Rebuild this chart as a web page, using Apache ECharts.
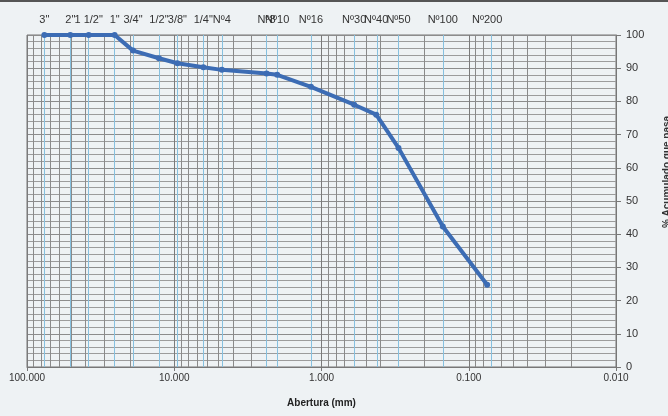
<!DOCTYPE html>
<html>
<head>
<meta charset="utf-8">
<script src="https://cdn.jsdelivr.net/npm/echarts@6/dist/echarts.min.js"></script>
<style>
html, body { margin: 0; background: #eef2f4; }
#curva { width: 668px; height: 416px; }
</style>
</head>
<body>
<div id="curva"></div>
<script>
// tamices y porcentajes
var sieveNames = ['3"', '2"', '1 1/2"', '1"', '3/4"', '1/2"', '3/8"', '1/4"', 'Nº4', 'Nº8', 'Nº10', 'Nº16', 'Nº30', 'Nº40', 'Nº50', 'Nº100', 'Nº200'];
var sieveSizes = [76.2, 50.8, 38.1, 25.4, 19.05, 12.7, 9.525, 6.35, 4.75, 2.36, 2.0, 1.18, 0.6, 0.425, 0.3, 0.15, 0.075];
var passing = [100, 100, 100, 100, 95.3, 93, 91.5, 90.3, 89.5, 88.4, 88, 84.4, 79, 76, 66, 42.3, 24.8];
var decades = [0.01, 0.1, 1, 10];

var lineColor = '#3c6cb4';

function curva() {
    var mychart = echarts.init(document.getElementById('curva'));

    // lineas menores del eje log (2..9 de cada decada)
    var minorLines = [];
    decades.forEach(function (d) {
        for (var m = 2; m <= 9; m++) {
            minorLines.push({ xAxis: +(m * d).toPrecision(3) });
        }
    });
    var sieveLines = sieveSizes.map(function (s) { return { xAxis: s }; });

    var points = sieveSizes.map(function (s, i) { return [s, passing[i]]; });

    var option = {
        backgroundColor: '#eef2f4',
        animation: false,
        textStyle: { fontFamily: 'Liberation Sans, Arial, sans-serif' },
        grid: {
            left: 27, right: 52, top: 35, bottom: 49,
            show: true, borderColor: '#777', borderWidth: 1
        },
        xAxis: {
            type: 'log',
            logBase: 10,
            min: 0.01,
            max: 100,
            inverse: true,
            name: 'Abertura (mm)',
            nameLocation: 'middle',
            nameGap: 31,
            nameTextStyle: { fontWeight: 'bold', fontSize: 10, color: '#222' },
            axisLine: { show: true, onZero: false, lineStyle: { color: '#777' } },
            axisTick: { show: true, length: 4, lineStyle: { color: '#777' } },
            axisLabel: {
                fontSize: 10, color: '#333', margin: 6,
                showMinLabel: true, showMaxLabel: true,
                formatter: function (v) { return v.toFixed(3); }
            },
            splitLine: { show: true, lineStyle: { color: '#7a7a7a', width: 1 } }
        },
        yAxis: {
            type: 'value',
            position: 'right',
            min: 0,
            max: 100,
            interval: 10,
            axisLine: { show: true, lineStyle: { color: '#777' } },
            axisTick: { show: true, length: 5, lineStyle: { color: '#777' } },
            axisLabel: { fontSize: 11, color: '#333', margin: 10 },
            splitLine: { show: true, lineStyle: { color: '#8c8c8c' } },
            minorTick: { show: false, splitNumber: 5 },
            minorSplitLine: { show: true, lineStyle: { color: '#9c9c9c' } }
        },
        series: [
            {
                type: 'line',
                data: [],
                silent: true,
                markLine: {
                    silent: true,
                    symbol: ['none', 'none'],
                    label: { show: false },
                    lineStyle: { color: '#8a8a8a', width: 1, type: 'solid' },
                    data: minorLines
                }
            },
            {
                type: 'line',
                data: [],
                silent: true,
                markLine: {
                    silent: true,
                    symbol: ['none', 'none'],
                    label: { show: false },
                    lineStyle: { color: '#86c0df', width: 1, type: 'solid' },
                    data: sieveLines
                }
            },
            {
                name: 'Curva granulometrica',
                type: 'line',
                data: points,
                symbol: 'circle',
                symbolSize: 6,
                showAllSymbol: true,
                lineStyle: { color: lineColor, width: 4 },
                itemStyle: { color: lineColor },
                z: 5
            }
        ]
    };
    mychart.setOption(option);

    // nombres de los tamices arriba, sobre su abertura
    var graphics = sieveSizes.map(function (s, i) {
        var x = mychart.convertToPixel({ xAxisIndex: 0 }, s);
        return {
            type: 'text',
            x: x,
            y: 20,
            style: {
                text: sieveNames[i],
                align: 'center',
                verticalAlign: 'middle',
                font: '11px Liberation Sans, Arial, sans-serif',
                fill: '#333'
            }
        };
    });
    graphics.push({
        type: 'text',
        x: 667,
        y: 172,
        rotation: Math.PI / 2,
        style: {
            text: '% Acumulado que pasa',
            align: 'center',
            verticalAlign: 'middle',
            font: 'bold 10px Liberation Sans, Arial, sans-serif',
            fill: '#333'
        }
    });
    graphics.push({
        type: 'line',
        shape: { x1: 0, y1: 1, x2: 668, y2: 1 },
        style: { stroke: '#555', lineWidth: 2 }
    });
    mychart.setOption({ graphic: graphics });
}

curva();
</script>
</body>
</html>
